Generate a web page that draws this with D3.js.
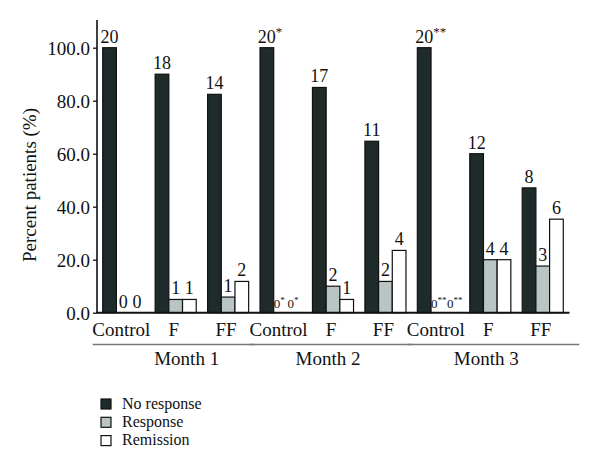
<!DOCTYPE html>
<html><head><meta charset="utf-8">
<script src="https://cdn.jsdelivr.net/npm/d3@7"></script>
<style>body{margin:0;background:#fff}svg{display:block}text{font-family:"Liberation Serif","DejaVu Serif",serif;fill:#111}</style>
</head><body><svg id="c" width="600" height="475"></svg>
<script>
const months = ["Month 1","Month 2","Month 3"];
const groups = ["Control","F","FF"];
const categories = ["M1 Control","M1 F","M1 FF","M2 Control","M2 F","M2 FF","M3 Control","M3 F","M3 FF"];
const seriesNames = ["No response","Response","Remission"];
const noResponse = [100, 90, 82.4, 100, 85, 64.7, 100, 60, 47.1];
const response   = [0, 5, 5.9, 0, 10, 11.8, 0, 20, 17.6];
const remission  = [0, 5, 11.8, 0, 5, 23.5, 0, 20, 35.3];
const noResponseN = ["20","18","14","20","17","11","20","12","8"];
const responseN   = ["0","1","1","0*","2","2","0**","4","3"];
const remissionN  = ["0","1","2","0*","1","4","0**","4","6"];
const noResponseMark = ["","","","*","","","**","",""];
const yTicks = [0,20,40,60,80,100];
const colors = ["#1e2b2a","#b9c4c4","#ffffff"];
const FONT = "Liberation Serif, DejaVu Serif, serif";

const svg = d3.select("#c");
const y = d3.scaleLinear().domain([0,110]).range([312.7, 21.2]);
const x = d3.scaleBand().domain(categories).range([97,569]).paddingInner(0.217).paddingOuter(0.109);
const xs = d3.scaleBand().domain(seriesNames).range([0, x.bandwidth()]);

const series = [noResponse, response, remission];
const labels = [noResponseN, responseN, remissionN];

// bars
series.forEach((vals, si) => {
  svg.append("g").selectAll("rect").data(vals).join("rect")
    .attr("x", (d,i) => x(categories[i]) + xs(seriesNames[si]))
    .attr("y", d => y(d))
    .attr("width", xs.bandwidth())
    .attr("height", d => y(0) - y(d))
    .attr("fill", colors[si])
    .attr("stroke", d => d > 0 ? "#111" : "none")
    .attr("stroke-width", 1.2);
});

// labels
const zeroEnd = {};
series.forEach((vals, si) => {
  const g = svg.append("g").attr("font-family", FONT);
  vals.forEach((v, i) => {
    const raw = labels[si][i];
    const num = raw.replace(/\*/g, "");
    const mark = si === 0 ? noResponseMark[i] : raw.slice(num.length);
    const bx = x(categories[i]) + xs(seriesNames[si]);
    const cx = bx + xs.bandwidth()/2;
    const small = v === 0 && mark;
    const t = g.append("text")
      .attr("y", y(v) - 5)
      .attr("font-size", small ? 13 : 18)
      .attr("text-anchor", "start");
    t.append("tspan").text(num);
    if (mark) t.append("tspan").attr("dy", small ? -5 : -7).attr("font-size", small ? 9 : 13).text(mark);
    if (!small) {
      const nw = t.select("tspan").node().getComputedTextLength();
      t.attr("x", cx - nw/2);
    } else {
      let sx = bx;
      if (zeroEnd[i] !== undefined) sx = Math.max(sx, zeroEnd[i] + 0.5);
      t.attr("x", sx);
      zeroEnd[i] = sx + t.node().getComputedTextLength();
    }
  });
});

// y axis
const yAxis = d3.axisLeft(y).tickValues(yTicks).tickFormat(d3.format(".1f")).tickSize(4).tickPadding(3);
const ga = svg.append("g").attr("transform","translate(97,0)").call(yAxis);
ga.select(".domain").remove();
ga.selectAll(".tick line").attr("stroke","#111").attr("stroke-width",1.3);
ga.selectAll(".tick text").attr("font-size",19).attr("font-family",FONT).attr("fill","#111").attr("dy","0.35em");
svg.append("line").attr("x1",97).attr("x2",97).attr("y1",20).attr("y2",y(0)).attr("stroke","#111").attr("stroke-width",1.6);
// x baseline
svg.append("line").attr("x1",96).attr("x2",569.5).attr("y1",y(0)).attr("y2",y(0)).attr("stroke","#111").attr("stroke-width",2);

// category labels
svg.append("g").attr("font-family", FONT).selectAll("text").data(categories).join("text")
  .attr("x", d => x(d) + x.bandwidth()/2 - 2)
  .attr("y", 336)
  .attr("text-anchor","middle")
  .attr("font-size",19)
  .text((d,i) => groups[i % 3]);

// month group lines and labels
const monthLabelOffset = [13, -3, -7];
months.forEach((m, mi) => {
  const first = x(categories[mi*3]);
  const last = x(categories[mi*3+2]) + x.bandwidth();
  const x1 = first - 10, x2 = last + (mi < 2 ? 6 : 16);
  svg.append("line").attr("x1",x1).attr("x2",x2).attr("y1",344.5).attr("y2",344.5)
    .attr("stroke","#777").attr("stroke-width",1.5);
  svg.append("text").attr("font-family", FONT).attr("x",(x1+x2)/2 + monthLabelOffset[mi]).attr("y",365).attr("text-anchor","middle")
    .attr("font-size",19).text(m);
});

// y title
svg.append("text").attr("font-family", FONT).attr("transform","translate(36,185) rotate(-90)")
  .attr("text-anchor","middle").attr("font-size",19).text("Percent patients (%)");

// legend
const lg = svg.append("g").attr("transform","translate(101,399)");
seriesNames.forEach((s, i) => {
  lg.append("rect").attr("x",0).attr("y",i*18.3).attr("width",10).attr("height",10)
    .attr("fill",colors[i]).attr("stroke","#111").attr("stroke-width",1.2);
  lg.append("text").attr("font-family", FONT).attr("x",21).attr("y",i*18.3+9.5).attr("font-size",16).text(s);
});
</script></body></html>
